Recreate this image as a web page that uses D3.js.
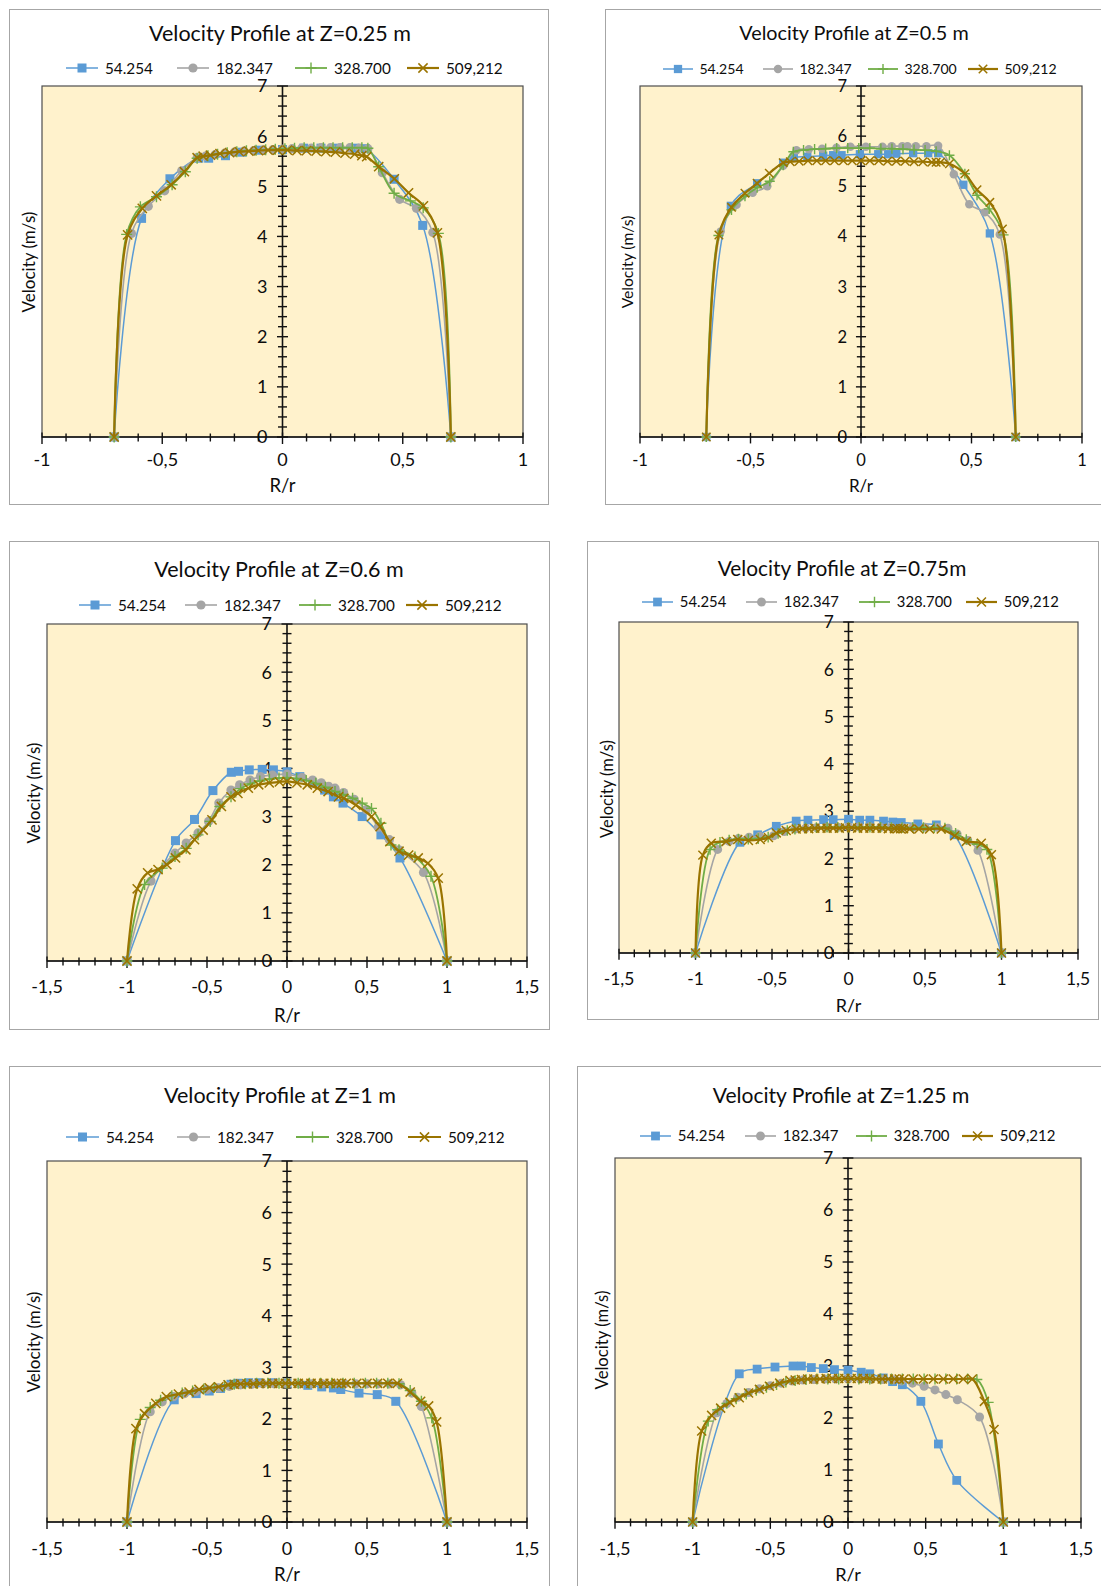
<!DOCTYPE html>
<html>
<head>
<meta charset="utf-8">
<script src="https://cdn.jsdelivr.net/npm/d3@7"></script>
<style>
  body { margin: 0; background: #fff; }
  svg { display: block; }
  text { font-family: Lato, "Open Sans", sans-serif; fill: #0d0d0d; }
</style>
</head>
<body>
<svg id="fig" width="1101" height="1586"></svg>
<script>
// Series (Reynolds numbers) shared by every panel
const seriesNames   = ["54.254", "182.347", "328.700", "509,212"];
const seriesColors  = ["#5B9BD5", "#A5A5A5", "#70AD47", "#9A7400"];
const seriesMarkers = ["square", "circle", "plus", "cross"];

// Axis tick labels
const xTicksNarrow = [-1, -0.5, 0, 0.5, 1];
const xTicksWide   = [-1.5, -1, -0.5, 0, 0.5, 1, 1.5];
const yTicks       = [0, 1, 2, 3, 4, 5, 6, 7];

// ---------- Z = 0.25 m ----------
const z025_54_r  = [-0.70, -0.586, -0.468, -0.348, -0.307, -0.237, -0.168, -0.098, 0.0, 0.088, 0.16, 0.23, 0.30, 0.345, 0.464, 0.583, 0.70];
const z025_54_v  = [0, 4.36, 5.15, 5.56, 5.56, 5.61, 5.68, 5.72, 5.73, 5.76, 5.76, 5.76, 5.76, 5.75, 5.14, 4.22, 0];
const z025_182_r = [-0.70, -0.628, -0.558, -0.490, -0.419, -0.355, -0.32, -0.28, -0.24, -0.20, -0.16, -0.12, -0.08, -0.04, 0.0, 0.04, 0.08, 0.12, 0.16, 0.20, 0.24, 0.28, 0.32, 0.355, 0.415, 0.487, 0.557, 0.625, 0.70];
const z025_182_v = [0, 4.06, 4.60, 4.91, 5.31, 5.57, 5.60, 5.63, 5.66, 5.68, 5.70, 5.71, 5.72, 5.73, 5.74, 5.75, 5.76, 5.76, 5.77, 5.77, 5.77, 5.77, 5.76, 5.75, 5.27, 4.74, 4.56, 4.08, 0];
const z025_328_r = [-0.70, -0.648, -0.591, -0.524, -0.459, -0.404, -0.355, -0.31, -0.27, -0.23, -0.19, -0.15, -0.11, -0.07, -0.03, 0.01, 0.05, 0.09, 0.13, 0.17, 0.21, 0.25, 0.29, 0.33, 0.355, 0.40, 0.464, 0.532, 0.585, 0.648, 0.70];
const z025_328_v = [0, 4.04, 4.59, 4.79, 5.03, 5.29, 5.56, 5.61, 5.64, 5.67, 5.69, 5.71, 5.72, 5.73, 5.74, 5.75, 5.76, 5.77, 5.77, 5.77, 5.77, 5.77, 5.77, 5.77, 5.76, 5.39, 4.86, 4.71, 4.57, 4.06, 0];
const z025_509_r = [-0.70, -0.644, -0.583, -0.524, -0.463, -0.408, -0.355, -0.33, -0.30, -0.26, -0.22, -0.18, -0.14, -0.10, -0.06, -0.02, 0.02, 0.06, 0.10, 0.14, 0.18, 0.22, 0.26, 0.30, 0.33, 0.35, 0.40, 0.465, 0.524, 0.586, 0.644, 0.70];
const z025_509_v = [0, 4.03, 4.56, 4.81, 5.03, 5.29, 5.57, 5.60, 5.62, 5.65, 5.67, 5.69, 5.70, 5.71, 5.72, 5.72, 5.72, 5.71, 5.71, 5.70, 5.69, 5.68, 5.66, 5.64, 5.61, 5.59, 5.39, 5.15, 4.87, 4.61, 4.07, 0];

// ---------- Z = 0.5 m ----------
const z05_54_r  = [-0.70, -0.589, -0.47, -0.352, -0.304, -0.243, -0.171, -0.126, -0.088, -0.005, 0.078, 0.123, 0.16, 0.236, 0.304, 0.349, 0.463, 0.583, 0.70];
const z05_54_v  = [0, 4.61, 5.06, 5.47, 5.57, 5.59, 5.61, 5.62, 5.62, 5.64, 5.64, 5.64, 5.65, 5.66, 5.66, 5.66, 5.03, 4.06, 0];
const z05_182_r = [-0.70, -0.635, -0.563, -0.490, -0.424, -0.352, -0.292, -0.236, -0.176, -0.111, -0.048, 0.022, 0.097, 0.139, 0.187, 0.21, 0.248, 0.296, 0.349, 0.42, 0.49, 0.56, 0.628, 0.70];
const z05_182_v = [0, 4.10, 4.63, 4.87, 5.00, 5.41, 5.72, 5.74, 5.75, 5.77, 5.79, 5.79, 5.79, 5.80, 5.80, 5.80, 5.80, 5.80, 5.81, 5.24, 4.64, 4.48, 4.04, 0];
const z05_328_r = [-0.70, -0.645, -0.586, -0.525, -0.47, -0.413, -0.352, -0.306, -0.26, -0.21, -0.16, -0.11, -0.06, -0.01, 0.04, 0.09, 0.14, 0.19, 0.24, 0.29, 0.34, 0.40, 0.47, 0.525, 0.58, 0.645, 0.70];
const z05_328_v = [0, 4.02, 4.53, 4.80, 4.97, 5.10, 5.42, 5.69, 5.72, 5.74, 5.75, 5.76, 5.76, 5.76, 5.76, 5.75, 5.75, 5.74, 5.73, 5.72, 5.70, 5.62, 5.25, 4.82, 4.55, 4.03, 0];
const z05_509_r = [-0.70, -0.643, -0.586, -0.525, -0.47, -0.415, -0.352, -0.32, -0.28, -0.24, -0.20, -0.16, -0.12, -0.08, -0.04, 0.0, 0.04, 0.08, 0.12, 0.16, 0.20, 0.24, 0.28, 0.32, 0.34, 0.36, 0.40, 0.47, 0.525, 0.583, 0.64, 0.70];
const z05_509_v = [0, 4.03, 4.58, 4.86, 5.06, 5.26, 5.47, 5.49, 5.50, 5.51, 5.51, 5.51, 5.51, 5.51, 5.51, 5.51, 5.51, 5.51, 5.50, 5.50, 5.50, 5.49, 5.49, 5.48, 5.48, 5.48, 5.45, 5.25, 4.93, 4.68, 4.15, 0];

// ---------- Z = 0.6 m ----------
const z06_54_r  = [-1.0, -0.697, -0.578, -0.463, -0.348, -0.303, -0.236, -0.155, -0.085, 0.0, 0.08, 0.16, 0.235, 0.29, 0.35, 0.47, 0.587, 0.706, 1.0];
const z06_54_v  = [0, 2.50, 2.94, 3.54, 3.92, 3.94, 3.97, 3.98, 3.97, 3.93, 3.83, 3.70, 3.55, 3.41, 3.28, 3.00, 2.62, 2.14, 0];
const z06_182_r = [-1.0, -0.85, -0.70, -0.63, -0.556, -0.49, -0.426, -0.35, -0.296, -0.231, -0.166, -0.09, 0.0, 0.094, 0.16, 0.214, 0.26, 0.30, 0.354, 0.42, 0.495, 0.57, 0.64, 0.70, 0.853, 1.0];
const z06_182_v = [0, 1.66, 2.24, 2.45, 2.66, 2.90, 3.28, 3.55, 3.66, 3.76, 3.83, 3.86, 3.88, 3.81, 3.76, 3.70, 3.63, 3.59, 3.50, 3.36, 3.14, 2.78, 2.52, 2.31, 1.84, 0];
const z06_328_r = [-1.0, -0.89, -0.78, -0.70, -0.63, -0.556, -0.48, -0.42, -0.35, -0.29, -0.23, -0.17, -0.11, -0.05, 0.0, 0.06, 0.12, 0.18, 0.24, 0.30, 0.35, 0.41, 0.47, 0.528, 0.587, 0.65, 0.70, 0.80, 0.90, 1.0];
const z06_328_v = [0, 1.59, 1.93, 2.17, 2.34, 2.62, 2.90, 3.21, 3.41, 3.58, 3.68, 3.74, 3.78, 3.80, 3.81, 3.79, 3.75, 3.69, 3.61, 3.52, 3.46, 3.38, 3.28, 3.17, 2.86, 2.41, 2.31, 2.16, 1.76, 0];
const z06_509_r = [-1.0, -0.936, -0.871, -0.806, -0.751, -0.697, -0.632, -0.578, -0.524, -0.469, -0.41, -0.35, -0.307, -0.242, -0.177, -0.111, -0.047, 0.0, 0.062, 0.127, 0.19, 0.257, 0.322, 0.355, 0.43, 0.528, 0.582, 0.643, 0.70, 0.76, 0.82, 0.88, 0.945, 1.0];
const z06_509_v = [0, 1.50, 1.83, 1.90, 2.00, 2.14, 2.31, 2.52, 2.72, 2.93, 3.21, 3.41, 3.48, 3.59, 3.66, 3.70, 3.72, 3.73, 3.70, 3.66, 3.59, 3.52, 3.41, 3.38, 3.24, 3.00, 2.79, 2.48, 2.28, 2.20, 2.14, 2.03, 1.72, 0];

// ---------- Z = 0.75 m ----------
const z075_54_r  = [-1.0, -0.71, -0.594, -0.472, -0.342, -0.265, -0.163, -0.10, 0.0, 0.073, 0.14, 0.229, 0.29, 0.345, 0.453, 0.574, 0.69, 1.0];
const z075_54_v  = [0, 2.34, 2.50, 2.68, 2.79, 2.81, 2.82, 2.82, 2.83, 2.81, 2.81, 2.79, 2.77, 2.76, 2.73, 2.71, 2.50, 0];
const z075_182_r = [-1.0, -0.855, -0.78, -0.72, -0.65, -0.58, -0.49, -0.42, -0.35, -0.28, -0.21, -0.14, -0.07, 0.0, 0.07, 0.14, 0.21, 0.28, 0.35, 0.42, 0.50, 0.58, 0.65, 0.71, 0.78, 0.846, 1.0];
const z075_182_v = [0, 2.19, 2.36, 2.42, 2.45, 2.47, 2.48, 2.57, 2.62, 2.64, 2.65, 2.66, 2.66, 2.67, 2.67, 2.67, 2.66, 2.66, 2.66, 2.66, 2.66, 2.66, 2.64, 2.52, 2.38, 2.17, 0];
const z075_328_r = [-1.0, -0.905, -0.84, -0.78, -0.72, -0.655, -0.59, -0.525, -0.46, -0.40, -0.35, -0.28, -0.21, -0.14, -0.07, 0.0, 0.07, 0.14, 0.21, 0.28, 0.35, 0.42, 0.49, 0.56, 0.63, 0.70, 0.77, 0.84, 0.905, 1.0];
const z075_328_v = [0, 2.19, 2.34, 2.39, 2.41, 2.41, 2.42, 2.45, 2.53, 2.59, 2.62, 2.64, 2.65, 2.66, 2.66, 2.66, 2.66, 2.66, 2.66, 2.65, 2.65, 2.65, 2.65, 2.65, 2.64, 2.53, 2.40, 2.30, 2.19, 0];
const z075_509_r = [-1.0, -0.952, -0.897, -0.80, -0.724, -0.654, -0.577, -0.523, -0.472, -0.407, -0.342, -0.30, -0.26, -0.22, -0.18, -0.14, -0.10, -0.06, -0.02, 0.02, 0.06, 0.10, 0.14, 0.18, 0.22, 0.26, 0.30, 0.32, 0.34, 0.36, 0.40, 0.46, 0.53, 0.606, 0.694, 0.77, 0.868, 0.934, 1.0];
const z075_509_v = [0, 2.07, 2.32, 2.36, 2.40, 2.38, 2.40, 2.44, 2.54, 2.59, 2.62, 2.63, 2.63, 2.64, 2.64, 2.64, 2.64, 2.64, 2.65, 2.65, 2.64, 2.64, 2.64, 2.64, 2.64, 2.63, 2.63, 2.63, 2.63, 2.63, 2.62, 2.62, 2.62, 2.62, 2.48, 2.36, 2.32, 2.08, 0];

// ---------- Z = 1 m ----------
const z1_54_r  = [-1.0, -0.705, -0.568, -0.486, -0.416, -0.35, -0.306, -0.24, -0.176, -0.088, 0.0, 0.13, 0.217, 0.29, 0.336, 0.45, 0.564, 0.68, 1.0];
const z1_54_v  = [0, 2.37, 2.49, 2.54, 2.59, 2.67, 2.69, 2.70, 2.70, 2.70, 2.69, 2.65, 2.62, 2.60, 2.57, 2.50, 2.47, 2.34, 0];
const z1_182_r = [-1.0, -0.855, -0.78, -0.71, -0.64, -0.57, -0.50, -0.43, -0.36, -0.29, -0.22, -0.15, -0.08, 0.0, 0.08, 0.15, 0.22, 0.29, 0.36, 0.43, 0.50, 0.57, 0.64, 0.71, 0.78, 0.84, 1.0];
const z1_182_v = [0, 2.14, 2.33, 2.43, 2.49, 2.53, 2.57, 2.60, 2.63, 2.66, 2.67, 2.68, 2.68, 2.68, 2.68, 2.68, 2.68, 2.68, 2.68, 2.68, 2.68, 2.68, 2.68, 2.66, 2.50, 2.24, 0];
const z1_328_r = [-1.0, -0.917, -0.855, -0.79, -0.72, -0.655, -0.59, -0.52, -0.455, -0.39, -0.33, -0.26, -0.19, -0.12, -0.05, 0.0, 0.07, 0.14, 0.21, 0.28, 0.35, 0.42, 0.49, 0.56, 0.63, 0.70, 0.77, 0.84, 0.905, 1.0];
const z1_328_v = [0, 1.99, 2.22, 2.36, 2.45, 2.50, 2.54, 2.58, 2.61, 2.64, 2.67, 2.68,
                  2.69, 2.69, 2.69, 2.69, 2.69, 2.69, 2.69, 2.69, 2.69, 2.69, 2.69, 2.69, 2.69,
                  2.68, 2.55, 2.34, 2.02, 0];
const z1_509_r = [-1.0, -0.944, -0.89, -0.82, -0.754, -0.678, -0.612, -0.55, -0.486, -0.427, -0.368, -0.33, -0.29, -0.25, -0.21, -0.17, -0.13, -0.09, -0.05, -0.01, 0.03, 0.07, 0.11, 0.15, 0.19, 0.23, 0.27, 0.31, 0.34, 0.37, 0.436, 0.50, 0.566, 0.63, 0.69, 0.77, 0.835, 0.885, 0.935, 1.0];
const z1_509_v = [0, 1.81, 2.10, 2.30, 2.43, 2.48, 2.52, 2.57, 2.60, 2.62, 2.66, 2.67, 2.68, 2.68, 2.68,
                  2.69, 2.69, 2.69, 2.69, 2.69, 2.69, 2.69, 2.69, 2.69, 2.69,
                  2.69, 2.69, 2.69, 2.69, 2.69, 2.69, 2.69, 2.69, 2.69, 2.69,
                  2.52, 2.34, 2.25, 1.94, 0];

// ---------- Z = 1.25 m ----------
const z125_54_r  = [-1.0, -0.70, -0.585, -0.47, -0.354, -0.30, -0.236, -0.159, -0.087, 0.0, 0.085, 0.14, 0.227, 0.287, 0.35, 0.469, 0.582, 0.70, 1.0];
const z125_54_v  = [0, 2.85, 2.94, 2.98, 3.00, 3.00, 2.97, 2.95, 2.93, 2.92, 2.88, 2.85, 2.77, 2.70, 2.64, 2.32, 1.50, 0.80, 0];
const z125_182_r = [-1.0, -0.845, -0.78, -0.71, -0.64, -0.57, -0.50, -0.43, -0.36, -0.29, -0.22, -0.15, -0.08, 0.0, 0.08, 0.15, 0.22, 0.29, 0.345, 0.415, 0.49, 0.56, 0.63, 0.704, 0.847, 1.0];
const z125_182_v = [0, 2.10, 2.28, 2.40, 2.49, 2.56, 2.62, 2.67, 2.71, 2.73, 2.74, 2.75, 2.75, 2.75, 2.75, 2.75, 2.74, 2.73, 2.71, 2.67, 2.61, 2.54, 2.45, 2.35, 2.02, 0];
const z125_328_r = [-1.0, -0.90, -0.84, -0.78, -0.72, -0.655, -0.59, -0.525, -0.46, -0.40, -0.34, -0.27, -0.20, -0.13, -0.06, 0.0, 0.07, 0.14, 0.21, 0.28, 0.35, 0.42, 0.49, 0.56, 0.63, 0.70, 0.77, 0.83, 0.903, 1.0];
const z125_328_v = [0, 1.94, 2.16, 2.28, 2.37, 2.46, 2.53, 2.59, 2.64, 2.69, 2.72, 2.74,
                    2.75, 2.75, 2.75, 2.75, 2.75, 2.75, 2.75, 2.75, 2.75, 2.75, 2.75, 2.75, 2.75, 2.75, 2.75,
                    2.74, 2.30, 0];
const z125_509_r = [-1.0, -0.942, -0.878, -0.82, -0.76, -0.70, -0.64, -0.57, -0.506, -0.44, -0.373, -0.34, -0.30, -0.26, -0.22, -0.18, -0.14, -0.10, -0.06, -0.02, 0.02, 0.06, 0.10, 0.14, 0.18, 0.22, 0.26, 0.30, 0.33, 0.36, 0.42, 0.485, 0.55, 0.614, 0.678, 0.742, 0.80, 0.878, 0.94, 1.0];
const z125_509_v = [0, 1.75, 2.05, 2.19, 2.30, 2.39, 2.48, 2.55, 2.61, 2.67, 2.72, 2.73, 2.74, 2.75, 2.75, 2.75,
                    2.76, 2.76, 2.76, 2.76, 2.76, 2.76, 2.76, 2.76,
                    2.75, 2.75, 2.75, 2.75, 2.75, 2.75, 2.75, 2.75, 2.75, 2.75, 2.75, 2.75, 2.75,
                    2.32, 1.78, 0];

// Panel layout: outer box, plot area and text placement (page pixels)
const panels = [
  { title: "Velocity Profile at Z=0.25 m", box: [9, 9, 548, 504], plot: [42, 86, 523, 437],
    xDomain: [-1, 1], xTicks: xTicksNarrow, titleXY: [280, 33], legendY: 68,
    legendX: [66, 177, 295, 407], lineLen: 32, yTitleXY: [29, 262], xTitleY: 485, tickDy: 23, k: 1,
    series: [[z025_54_r, z025_54_v], [z025_182_r, z025_182_v], [z025_328_r, z025_328_v], [z025_509_r, z025_509_v]] },
  { title: "Velocity Profile at Z=0.5 m", box: [605, 9, 1110, 504], plot: [640, 86, 1082, 437],
    xDomain: [-1, 1], xTicks: xTicksNarrow, titleXY: [854, 33], legendY: 69,
    legendX: [663, 763, 868, 968], lineLen: 30, yTitleXY: [627, 262], xTitleY: 486, tickDy: 23, k: 0.92,
    series: [[z05_54_r, z05_54_v], [z05_182_r, z05_182_v], [z05_328_r, z05_328_v], [z05_509_r, z05_509_v]] },
  { title: "Velocity Profile at Z=0.6 m", box: [9, 541, 549, 1029], plot: [47, 624, 527, 961],
    xDomain: [-1.5, 1.5], xTicks: xTicksWide, titleXY: [279, 569], legendY: 605,
    legendX: [79, 185, 299, 406], lineLen: 32, yTitleXY: [34, 793], xTitleY: 1015, tickDy: 26, k: 1,
    series: [[z06_54_r, z06_54_v], [z06_182_r, z06_182_v], [z06_328_r, z06_328_v], [z06_509_r, z06_509_v]] },
  { title: "Velocity Profile at Z=0.75m", box: [587, 541, 1098, 1019], plot: [619, 622, 1078, 953],
    xDomain: [-1.5, 1.5], xTicks: xTicksWide, titleXY: [842, 568], legendY: 602,
    legendX: [642, 746, 859, 966], lineLen: 31, yTitleXY: [607, 789], xTitleY: 1006, tickDy: 26, k: 0.97,
    series: [[z075_54_r, z075_54_v], [z075_182_r, z075_182_v], [z075_328_r, z075_328_v], [z075_509_r, z075_509_v]] },
  { title: "Velocity Profile at Z=1 m", box: [9, 1066, 549, 1600], plot: [47, 1161, 527, 1522],
    xDomain: [-1.5, 1.5], xTicks: xTicksWide, titleXY: [280, 1095], legendY: 1137,
    legendX: [66, 177, 296, 408], lineLen: 33, yTitleXY: [34, 1342], xTitleY: 1574, tickDy: 27, k: 1,
    series: [[z1_54_r, z1_54_v], [z1_182_r, z1_182_v], [z1_328_r, z1_328_v], [z1_509_r, z1_509_v]] },
  { title: "Velocity Profile at Z=1.25 m", box: [577, 1066, 1110, 1600], plot: [615, 1158, 1081, 1522],
    xDomain: [-1.5, 1.5], xTicks: xTicksWide, titleXY: [841, 1095], legendY: 1136,
    legendX: [640, 745, 856, 962], lineLen: 31, yTitleXY: [602, 1340], xTitleY: 1574, tickDy: 27, k: 0.98,
    series: [[z125_54_r, z125_54_v], [z125_182_r, z125_182_v], [z125_328_r, z125_328_v], [z125_509_r, z125_509_v]] }
];

const svg = d3.select("#fig");
const fmtTick = v => String(v).replace(".", ",");

function drawMarker(g, type, cx, cy, color, k) {
  if (type === "square") {
    const s = 9 * k;
    g.append("rect").attr("x", cx - s / 2).attr("y", cy - s / 2).attr("width", s).attr("height", s)
      .attr("fill", color);
  } else if (type === "circle") {
    g.append("circle").attr("cx", cx).attr("cy", cy).attr("r", 4.6 * k).attr("fill", color);
  } else if (type === "plus") {
    const h = 5.5 * k;
    g.append("path").attr("d", `M${cx - h},${cy}H${cx + h}M${cx},${cy - h}V${cy + h}`)
      .attr("stroke", color).attr("stroke-width", 1.4).attr("fill", "none");
  } else {
    const h = 4.6 * k;
    g.append("path").attr("d", `M${cx - h},${cy - h}L${cx + h},${cy + h}M${cx - h},${cy + h}L${cx + h},${cy - h}`)
      .attr("stroke", color).attr("stroke-width", 1.5).attr("fill", "none");
  }
}

const lineWidths = [1.5, 1.6, 1.8, 2.2];

panels.forEach(p => {
  const g = svg.append("g");
  const k = p.k;
  const [bx0, by0, bx1, by1] = p.box;
  const [px0, py0, px1, py1] = p.plot;

  // chart frame
  g.append("rect").attr("x", bx0 + 0.5).attr("y", by0 + 0.5)
    .attr("width", bx1 - bx0).attr("height", by1 - by0)
    .attr("fill", "#fff").attr("stroke", "#a6a6a6").attr("stroke-width", 1);

  const x = d3.scaleLinear().domain(p.xDomain).range([px0, px1]);
  const y = d3.scaleLinear().domain([0, 7]).range([py1, py0]);

  // plot area
  g.append("rect").attr("x", px0).attr("y", py0).attr("width", px1 - px0).attr("height", py1 - py0)
    .attr("fill", "#FFF2CC").attr("stroke", "#4d4d4d").attr("stroke-width", 1.2);

  const axisG = g.append("g").attr("stroke", "#111").attr("fill", "none");
  const x0 = x(0), y0 = y(0);

  // horizontal axis at V = 0 with ticks every 0.1
  axisG.append("line").attr("x1", px0).attr("x2", px1).attr("y1", y0).attr("y2", y0).attr("stroke-width", 1.6);
  const nLo = Math.round(p.xDomain[0] * 10), nHi = Math.round(p.xDomain[1] * 10);
  d3.range(nLo, nHi + 1).forEach(i => {
    const major = i % 5 === 0;
    const xx = x(i / 10);
    axisG.append("line").attr("x1", xx).attr("x2", xx)
      .attr("y1", y0 - (major ? 4.5 : 3.5) * k).attr("y2", y0 + (major ? 7 : 4.5) * k)
      .attr("stroke-width", 1.4);
  });

  // vertical axis at R/r = 0 with ticks every 0.2
  axisG.append("line").attr("x1", x0).attr("x2", x0).attr("y1", py0).attr("y2", y0).attr("stroke-width", 1.6);
  d3.range(0, 36).forEach(i => {
    const major = i % 5 === 0;
    const yy = y(i / 5);
    axisG.append("line").attr("y1", yy).attr("y2", yy)
      .attr("x1", x0 - (major ? 5.5 : 4.5) * k).attr("x2", x0 + (major ? 5.5 : 4.5) * k)
      .attr("stroke-width", 1.4);
  });

  // tick labels
  const tickFont = 18 * k;
  g.selectAll(null).data(yTicks).join("text")
    .attr("x", x0 - 15 * k).attr("y", d => y(d)).attr("dy", "0.36em")
    .attr("text-anchor", "end").attr("font-size", tickFont).text(d => d);
  g.selectAll(null).data(p.xTicks).join("text")
    .attr("x", d => x(d)).attr("y", y0 + p.tickDy).attr("dy", "0.36em")
    .attr("text-anchor", "middle").attr("font-size", tickFont).text(fmtTick);

  // axis titles
  g.append("text").attr("x", x0).attr("y", p.xTitleY).attr("dy", "0.36em")
    .attr("text-anchor", "middle").attr("font-size", 18.5 * k).text("R/r");
  g.append("text").attr("transform", `translate(${p.yTitleXY[0]},${p.yTitleXY[1]}) rotate(-90)`)
    .attr("dy", "0.36em").attr("text-anchor", "middle").attr("font-size", 17 * k).text("Velocity (m/s)");

  // chart title
  g.append("text").attr("x", p.titleXY[0]).attr("y", p.titleXY[1]).attr("dy", "0.36em")
    .attr("text-anchor", "middle").attr("font-size", 21.5 * k).text(p.title);

  // legend
  seriesNames.forEach((name, s) => {
    const lx = p.legendX[s], ly = p.legendY;
    g.append("line").attr("x1", lx).attr("x2", lx + p.lineLen).attr("y1", ly).attr("y2", ly)
      .attr("stroke", seriesColors[s]).attr("stroke-width", lineWidths[s]);
    drawMarker(g, seriesMarkers[s], lx + p.lineLen / 2, ly, seriesColors[s], k);
    g.append("text").attr("x", lx + p.lineLen + 7 * k).attr("y", ly).attr("dy", "0.36em")
      .attr("font-size", 15.3 * k).attr("fill", "#1a1a1a").text(name);
  });

  // velocity profiles
  const line = d3.line().x(d => x(d[0])).y(d => y(d[1])).curve(d3.curveCatmullRom.alpha(0.5));
  p.series.forEach(([rs, vs], s) => {
    if (rs.length !== vs.length) console.warn("length mismatch", p.title, seriesNames[s]);
    const pts = rs.map((r, i) => [r, vs[i]]);
    g.append("path").datum(pts).attr("d", line)
      .attr("fill", "none").attr("stroke", seriesColors[s]).attr("stroke-width", lineWidths[s]);
    const mg = g.append("g");
    pts.forEach(d => drawMarker(mg, seriesMarkers[s], x(d[0]), y(d[1]), seriesColors[s], k));
  });
});
</script>
</body>
</html>
